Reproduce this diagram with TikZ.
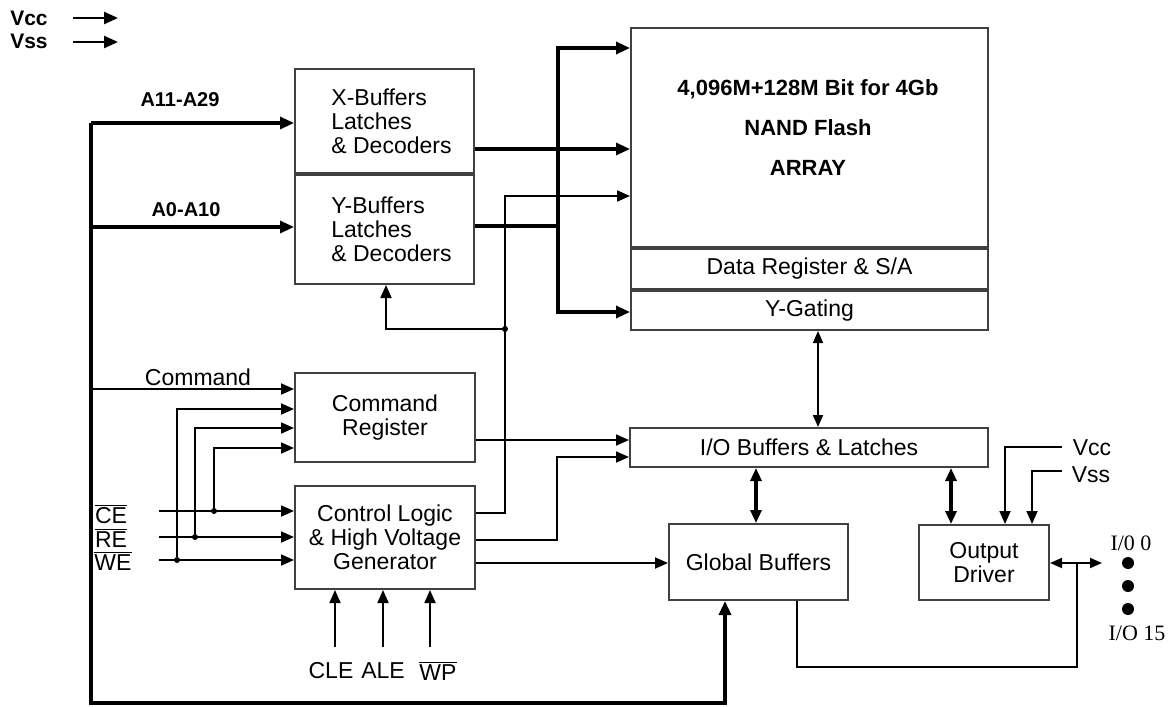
\documentclass[tikz,border=0pt]{standalone}
\usepackage{fontspec}
\setmainfont{Liberation Sans}
\newfontfamily\iofont{Liberation Serif}
\usetikzlibrary{arrows.meta}
\newcommand\ovl[1]{$\overline{\mbox{#1}}$}

\begin{document}
\begin{tikzpicture}[
        x=0.5pt,y=-0.5pt,
        font=\fontsize{11.5}{12}\selectfont,
        block/.style={draw=black!75,line width=1pt,inner sep=0pt,align=center},
        link/.style={-{Triangle[length=6.5pt,width=5.5pt]},line width=0.9pt},
        linkboth/.style={{Triangle[length=6pt,width=5pt]}-{Triangle[length=6pt,width=5pt]},line width=0.9pt},
        bus/.style={-{Triangle[length=7pt,width=6pt]},line width=1.6pt},
        busboth/.style={{Triangle[length=6.5pt,width=5.5pt]}-{Triangle[length=6.5pt,width=5.5pt]},line width=1.6pt},
        pwr/.style={-{Triangle[length=7pt,width=6pt]},line width=1.2pt},
        wire/.style={line width=0.9pt},
        thickwire/.style={line width=1.6pt},
        dot/.style={circle,fill,inner sep=0pt,minimum size=3pt},
        iodot/.style={circle,fill,inner sep=0pt,minimum size=6pt},
        boldlbl/.style={font=\fontsize{10.5}{12}\selectfont\bfseries}
    ]
        \useasboundingbox (0,0) rectangle (1171,706);

        % blocks
        \node[block,minimum width=178.5pt,minimum height=109.5pt] (array) at (809.5,137.5) {};
        \node[font=\fontsize{11}{20}\selectfont\bfseries,align=center] (arraytxt) at (808,128) {4,096M+128M Bit for 4Gb\\NAND Flash\\ARRAY};
        \node[block,minimum width=178.5pt,minimum height=20pt,anchor=north] (datareg) at (array.south) {Data Register \& S/A};
        \node[block,minimum width=178.5pt,minimum height=19.5pt,anchor=north] (ygate) at (datareg.south) {Y-Gating};

        \node[block,align=left,minimum width=89.5pt,minimum height=52pt] (xbuf) at (384.5,121) {\hspace*{7pt}X-Buffers\\\hspace*{7pt}Latches\\\hspace*{7pt}\& Decoders};
        \node[block,align=left,minimum width=89.5pt,minimum height=54.5pt,anchor=north] (ybuf) at (xbuf.south) {\hspace*{7pt}Y-Buffers\\\hspace*{7pt}Latches\\\hspace*{7pt}\& Decoders};

        \node[block,minimum width=90pt,minimum height=44.5pt] (cmdreg) at (385,417.5) {Command\\Register};
        \node[block,minimum width=90pt,minimum height=51.5pt] (ctrl) at (385,537.5) {Control Logic\\\& High Voltage\\Generator};
        \node[block,minimum width=179pt,minimum height=19.5pt] (iobuf) at (809,447.5) {I/O Buffers \& Latches};
        \node[block,minimum width=89.5pt,minimum height=38pt] (glob) at (758.5,562) {Global Buffers};
        \node[block,minimum width=65pt,minimum height=37.5pt] (outdrv) at (984,562.5) {Output\\Driver};

        % labels
        \node[boldlbl] (vcclbl) at (29,18) {Vcc};
        \node[boldlbl] (vsslbl) at (29,41) {Vss};
        \node[boldlbl,font=\fontsize{10}{12}\selectfont\bfseries] (ahilbl) at (180,100) {A11-A29};
        \node[boldlbl,font=\fontsize{10}{12}\selectfont\bfseries] (alolbl) at (186,210) {A0-A10};
        \node (cmdlbl) at (198,377) {Command};
        \node (celbl) at (111,514) {\ovl{CE}};
        \node (relbl) at (111,538) {\ovl{RE}};
        \node (welbl) at (113,561) {\ovl{WE}};
        \node (clelbl) at (331,671) {CLE};
        \node (alelbl) at (383,671) {ALE};
        \node (wplbl) at (438,671) {\ovl{WP}};
        \node (vccrlbl) at (1092,448) {Vcc};
        \node (vssrlbl) at (1091,475) {Vss};
        \node[font=\fontsize{11}{12}\iofont] (io0lbl) at (1131,543) {I/0 0};
        \node[font=\fontsize{11}{12}\iofont] (io15lbl) at (1137,633) {I/O 15};
        \node[iodot] (io1) at (1128,563) {};
        \node[iodot] (io2) at (1128,586) {};
        \node[iodot] (io3) at (1128,609) {};

        % free ends
        \coordinate (vccin) at (73,18);
        \coordinate (vccend) at (118,18);
        \coordinate (vssin) at (73,42);
        \coordinate (vssend) at (118,42);
        \coordinate (bustop) at (91,123);
        \coordinate (busbot) at (91,703);
        \coordinate (cein) at (159,511);
        \coordinate (rein) at (159,537);
        \coordinate (wein) at (159,560);
        \coordinate (clein) at (335,647);
        \coordinate (alein) at (383,647);
        \coordinate (wpin) at (430,647);
        \coordinate (vccr) at (1062,447);
        \coordinate (vssr) at (1062,471);
        \coordinate (ioout) at (1102,563);
        \coordinate (ybus) at (558,226);
        \node[dot] (jce) at (214,511) {};
        \node[dot] (jre) at (195,537) {};
        \node[dot] (jwe) at (177,560) {};
        \node[dot] (jctl) at (505,329) {};

        % power
        \draw[pwr] (vccin) -- (vccend);
        \draw[pwr] (vssin) -- (vssend);

        % address and command bus
        \draw[bus] (bustop) -- (xbuf.west |- bustop);
        \draw[bus] (bustop |- 0,227) -- (ybuf.west |- 0,227);
        \draw[bus] (bustop) -- (busbot) -| (glob.south -| 725,0);
        \draw[link] (bustop |- 0,389) -- (cmdreg.west |- 0,389);

        % buffers to array
        \draw[bus] (xbuf.east |- 0,149) -- (array.west |- 0,149);
        \draw[thickwire] (ybuf.east |- ybus) -- (ybus);
        \draw[bus] (ybus) |- (array.west |- 0,48);
        \draw[bus] (ybus) |- (ygate.west |- 0,312);

        % control signals
        \draw[link] (cein) -- (ctrl.west |- cein);
        \draw[link] (rein) -- (ctrl.west |- rein);
        \draw[link] (wein) -- (ctrl.west |- wein);
        \draw[link] (jce) |- (cmdreg.west |- 0,448);
        \draw[link] (jre) |- (cmdreg.west |- 0,428);
        \draw[link] (jwe) |- (cmdreg.west |- 0,409);
        \draw[link] (clein) -- (ctrl.south -| clein);
        \draw[link] (alein) -- (ctrl.south -| alein);
        \draw[link] (wpin) -- (ctrl.south -| wpin);

        % control logic outputs
        \draw[link] (ctrl.east |- 0,513) -| (505,196) -- (array.west |- 0,196);
        \draw[link] (jctl) -| (ybuf.south -| 386,0);
        \draw[link] (ctrl.east |- 0,540) -| (557,457) -- (iobuf.west |- 0,457);
        \draw[link] (ctrl.east |- 0,563) -- (glob.west |- 0,563);
        \draw[link] (cmdreg.east |- 0,440) -- (iobuf.west |- 0,440);

        % data path
        \draw[linkboth] (ygate.south -| 818,0) -- (iobuf.north -| 818,0);
        \draw[busboth] (iobuf.south -| 756,0) -- (glob.north -| 756,0);
        \draw[busboth] (iobuf.south -| 951,0) -- (outdrv.north -| 951,0);
        \draw[link] (vccr) -| (outdrv.north -| 1005,0);
        \draw[link] (vssr) -| (outdrv.north -| 1032,0);
        \draw[linkboth] (outdrv.east |- ioout) -- (ioout);
        \draw[wire] (glob.south -| 797,0) |- (1077,667) -- (1077,563);
    \end{tikzpicture}
\end{document}
